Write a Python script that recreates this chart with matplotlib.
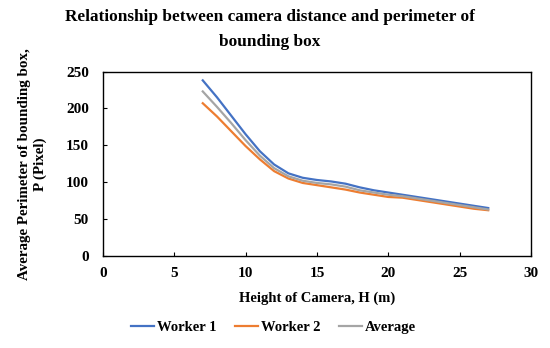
import numpy as np
import matplotlib
matplotlib.use("Agg")
import matplotlib.pyplot as plt

# Camera heights (m) and average bounding box perimeter (pixel)
height = [7, 8, 9, 10, 11, 12, 13, 14, 15, 16, 17, 18, 19, 20, 21, 22, 23, 24, 25, 26, 27]
worker1 = [238, 215, 190, 165, 142, 124, 112, 106, 103, 101, 98, 93, 89, 86, 83, 80, 77, 74, 71, 68, 65]
worker2 = [207, 189, 169, 149, 131, 115, 105, 99, 96, 93, 90, 86, 83, 80, 79, 76, 73, 70, 67, 64, 62]
average = [223, 202, 180, 157, 136, 119, 108, 102, 99, 97, 94, 89, 86, 83, 81, 78, 75, 72, 69, 66, 63]

plt.rcParams['font.family'] = ['Liberation Serif', 'DejaVu Serif']
plt.rcParams['font.weight'] = 'bold'

fig = plt.figure(figsize=(5.5, 3.48), dpi=100)
ax = fig.add_axes([0.187, 0.2644, 0.7785, 0.5301])

ax.plot(height, worker1, color='#4472C4', linewidth=1.6, label='Worker 1')
ax.plot(height, worker2, color='#ED7D31', linewidth=1.6, label='Worker 2')
ax.plot(height, average, color='#A5A5A5', linewidth=1.6, label='Average')

ax.set_xlim(0, 30)
ax.set_ylim(0, 250)
ax.set_xticks(np.arange(0, 31, 5))
ax.set_yticks(np.arange(0, 251, 50))
ax.tick_params(direction='in', length=3, width=0.8, labelsize=11)
ax.tick_params(axis='x', pad=8)
ax.tick_params(axis='y', pad=10)
for lab in ax.get_xticklabels() + ax.get_yticklabels():
    lab.set_fontweight('bold')
for s in ax.spines.values():
    s.set_color('black')
    s.set_linewidth(1.0)

ax.set_xlabel('Height of Camera, H (m)', fontsize=10.5, fontweight='bold', labelpad=8)
ax.set_ylabel('Average Perimeter of bounding box,\nP (Pixel)', fontsize=10.8,
              fontweight='bold', labelpad=14)

fig.text(0.49, 0.975, 'Relationship between camera distance and perimeter of\nbounding box',
         ha='center', va='top', fontsize=12.4, fontweight='bold', linespacing=1.75)

fig.legend(loc='center', bbox_to_anchor=(0.497, 0.058), ncol=3, frameon=False,
           prop={'size': 10.5, 'weight': 'bold'}, handlelength=1.6, handletextpad=0.15,
           columnspacing=1.3)

fig.savefig('out.png', dpi=100)
